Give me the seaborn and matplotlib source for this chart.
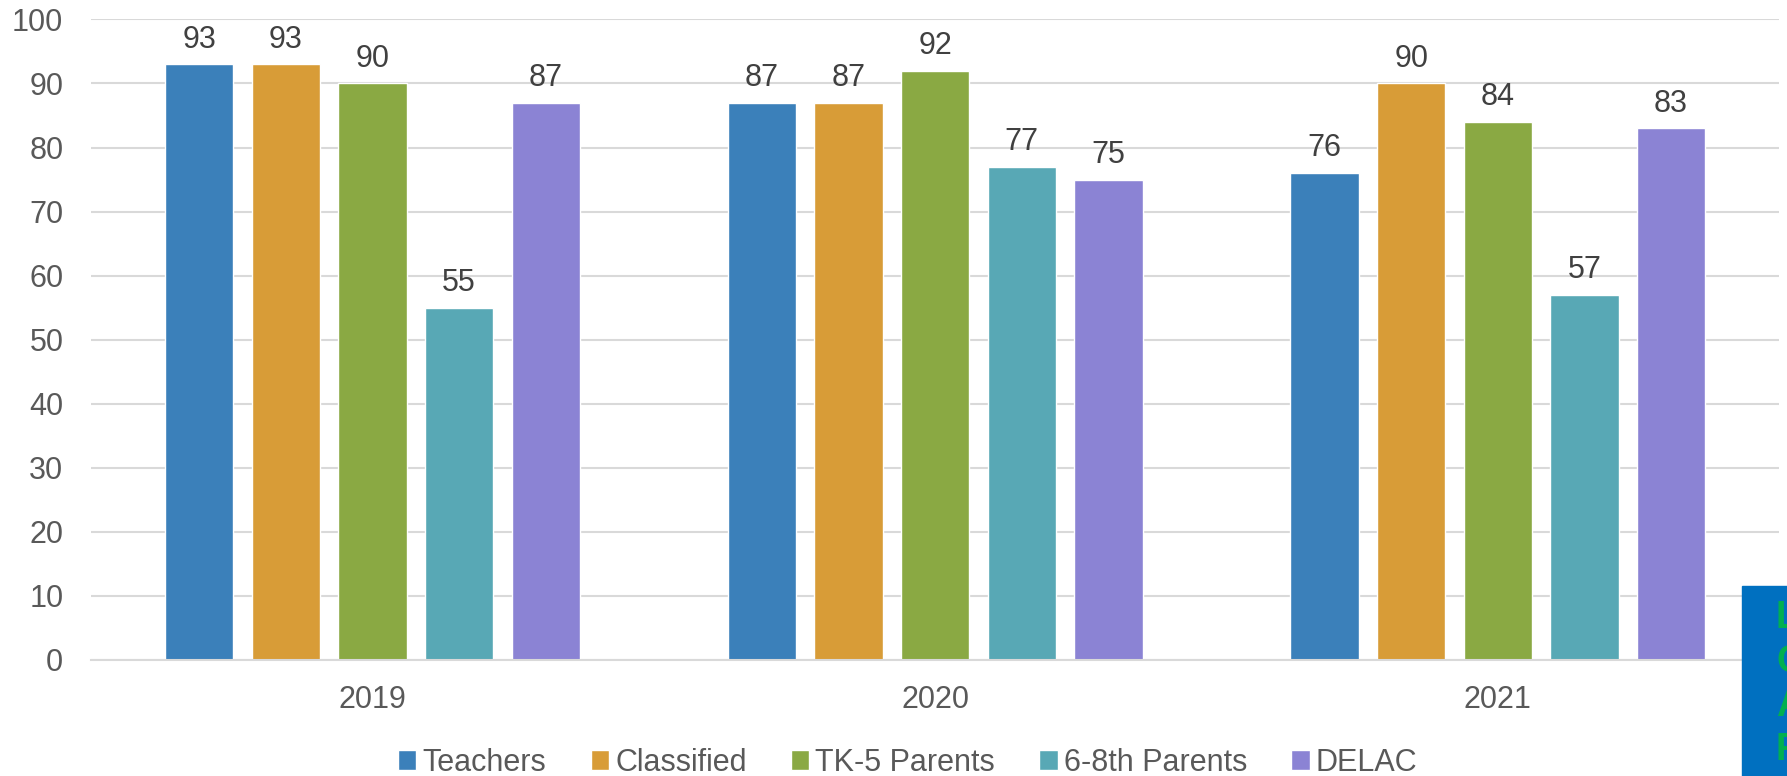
#!/usr/bin/python

'''
Survey results by group, 2019-2021
'''
import numpy as np
import pandas as pd
from matplotlib import pyplot as plt
from matplotlib.patches import Rectangle
import seaborn as sns

years = ['2019', '2020', '2021']
groups = ['Teachers', 'Classified', 'TK-5 Parents', '6-8th Parents', 'DELAC']
teachers = [93, 87, 76]
classified = [93, 87, 90]
tk5_parents = [90, 92, 84]
parents_6_8 = [55, 77, 57]
delac = [87, 75, 83]
colors = ['#3b80ba', '#d89c37', '#8aa943', '#58a8b5', '#8b83d4']

# build long table
values = [teachers, classified, tk5_parents, parents_6_8, delac]
rows = []
for g, vals in zip(groups, values):
    for y, v in zip(years, vals):
        rows.append({'year': y, 'group': g, 'value': v})
df = pd.DataFrame(rows)

sns.set_style('white')
plt.rcParams['font.family'] = ['Liberation Sans', 'DejaVu Sans']

fig = plt.figure(figsize=(17.87, 7.76), dpi=100)
ax = fig.add_axes([0.051, 0.1495, 0.9446, 0.8255])

sns.barplot(data=df, x='year', y='value', hue='group', hue_order=groups,
            palette=colors, width=0.77, gap=0.21, saturation=1, ax=ax,
            legend=True, errorbar=None)

for cont in ax.containers:
    ax.bar_label(cont, padding=7, fontsize=22, color='#404040')

ax.set_ylim(0, 100)
ax.set_xlim(-0.5, 2.5)
ax.set_yticks(np.arange(0, 101, 10))
ax.yaxis.grid(True, color='#d9d9d9', linewidth=1.5)
ax.set_axisbelow(True)
for s in ['left', 'right', 'top']:
    ax.spines[s].set_visible(False)
ax.spines['bottom'].set_color('#d9d9d9')
ax.spines['bottom'].set_linewidth(1.5)
ax.tick_params(axis='both', labelsize=22, colors='#595959', length=0)
ax.tick_params(axis='y', pad=20)
ax.tick_params(axis='x', pad=18)
ax.set_xlabel('')
ax.set_ylabel('')

handles, labels = ax.get_legend_handles_labels()
ax.get_legend().remove()
fig.legend(handles, labels, loc='center', bbox_to_anchor=(0.508, 0.017),
           ncol=5, frameon=False, fontsize=22, handlelength=0.6,
           handleheight=0.6, handletextpad=0.2, columnspacing=1.45,
           labelcolor='#595959', borderpad=0)

# clipped banner in the lower right corner (cut off in the original too)
fig.patches.append(Rectangle((1742 / 1787, 0), 45 / 1787, 190 / 776,
                             transform=fig.transFigure, color='#0070c0',
                             zorder=5))
for i, ch in enumerate(['L', 'C', 'A', 'R']):
    fig.text(1776 / 1787, 1 - (618 + 44 * i) / 776, ch, color='#00b050',
             fontsize=27, fontweight='bold', va='center', ha='left', zorder=6)

plt.savefig('out.png', dpi=100)
